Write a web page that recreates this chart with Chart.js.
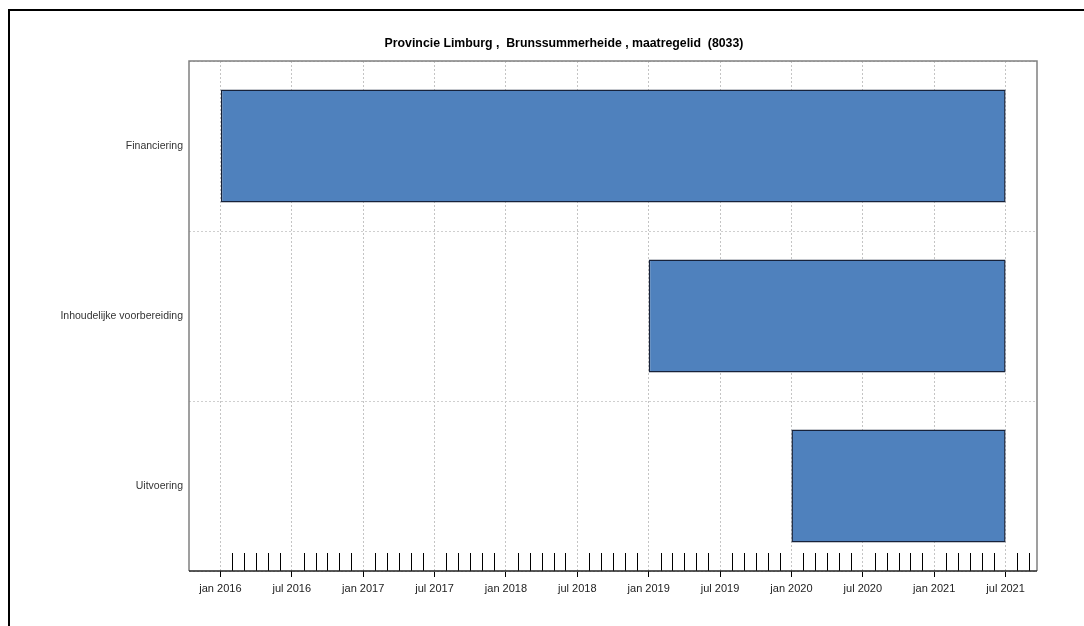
<!DOCTYPE html>
<html>
<head>
<meta charset="utf-8">
<script src="https://cdn.jsdelivr.net/npm/chart.js@4"></script>
<style>
  html, body { margin: 0; padding: 0; background: #fff; }
  #wrap { position: relative; width: 1084px; height: 626px; overflow: hidden; }
  #frame { position: absolute; left: 8px; top: 9px; right: -4px; bottom: -4px;
           border-top: 2px solid #000; border-left: 2px solid #000; }
  canvas { position: absolute; left: 0; top: 0; }
</style>
</head>
<body>
<div id="wrap">
  <canvas id="gantt" width="1084" height="626"></canvas>
  <div id="frame"></div>
</div>
<script>
// Chart data
const titleText = 'Provincie Limburg ,  Brunssummerheide , maatregelid  (8033)';
const categories = ['Financiering', 'Inhoudelijke voorbereiding', 'Uitvoering'];
const startDates = ['2016-01', '2019-01', '2020-01'];
const endDates = ['2021-07', '2021-07', '2021-07'];
const monthNames = ['jan', 'feb', 'mrt', 'apr', 'mei', 'jun', 'jul', 'aug', 'sep', 'okt', 'nov', 'dec'];
const firstTick = '2016-01';
const lastTick = '2021-09';

// months since jan 2016
function toMonth(s) {
    const [y, m] = s.split('-').map(Number);
    return (y - 2016) * 12 + (m - 1);
}
function monthLabel(v) {
    const y = 2016 + Math.floor(v / 12);
    return monthNames[((v % 12) + 12) % 12] + ' ' + y;
}

const bars = startDates.map((s, i) => [toMonth(s), toMonth(endDates[i])]);
const dataMin = Math.min(...bars.map(b => b[0]));
const dataMax = Math.max(...bars.map(b => b[1]));
const pad = (dataMax - dataMin) * 0.04; // R style axis padding

const isMajor = v => v % 6 === 0 && v <= dataMax;

// Frame around plot + minor month ticks inside
const boxPlugin = {
    id: 'box',
    afterDraw(chart) {
        const { ctx, chartArea: a } = chart;
        const xs = chart.scales.x;
        ctx.save();
        ctx.lineWidth = 1;
        ctx.strokeStyle = '#000';
        ctx.beginPath();
        xs.ticks.forEach(t => {
            if (isMajor(t.value)) return;
            const px = Math.round(xs.getPixelForValue(t.value)) + 0.5;
            ctx.moveTo(px, a.bottom);
            ctx.lineTo(px, a.bottom - 18);
        });
        ctx.stroke();
        ctx.strokeStyle = '#808080';
        ctx.lineWidth = 1.5;
        ctx.beginPath();
        ctx.moveTo(a.left, a.bottom);
        ctx.lineTo(a.left, a.top);
        ctx.lineTo(a.right, a.top);
        ctx.lineTo(a.right, a.bottom);
        ctx.stroke();
        ctx.strokeStyle = '#222';
        ctx.beginPath();
        ctx.moveTo(a.left, a.bottom);
        ctx.lineTo(a.right, a.bottom);
        ctx.stroke();
        // title
        ctx.fillStyle = '#000';
        ctx.font = 'bold 12.3px "Liberation Sans", Arial, sans-serif';
        ctx.textAlign = 'center';
        ctx.textBaseline = 'middle';
        ctx.fillText(titleText, 564, 44);
        ctx.restore();
    }
};

new Chart(document.getElementById('gantt'), {
    type: 'bar',
    data: {
        labels: categories,
        datasets: [{
            data: bars,
            backgroundColor: '#4f81bd',
            borderColor: '#17223a',
            borderWidth: 1.5,
            borderSkipped: false,
            barPercentage: 0.665,
            categoryPercentage: 1
        }]
    },
    options: {
        indexAxis: 'y',
        responsive: false,
        animation: false,
        layout: { padding: { top: 61, right: 47, left: 0, bottom: 0 } },
        plugins: { legend: { display: false }, tooltip: { enabled: false } },
        scales: {
            x: {
                type: 'linear',
                min: dataMin - pad,
                max: dataMax + pad,
                afterBuildTicks(scale) {
                    const ticks = [];
                    for (let v = toMonth(firstTick); v <= toMonth(lastTick); v++) ticks.push({ value: v });
                    scale.ticks = ticks;
                },
                afterFit(scale) { scale.height = 55; },
                border: { display: false, dash: [2, 2] },
                grid: {
                    drawOnChartArea: true,
                    color: c => (c.tick && isMajor(c.tick.value)) ? '#c4c4c4' : 'rgba(0,0,0,0)',
                    tickLength: 6,
                    tickColor: c => (c.tick && isMajor(c.tick.value)) ? '#000' : 'rgba(0,0,0,0)',
                    tickWidth: 1
                },
                ticks: {
                    autoSkip: false,
                    maxRotation: 0,
                    padding: 5,
                    color: '#222',
                    font: { family: '"Liberation Sans", Arial, sans-serif', size: 11 },
                    callback: v => isMajor(v) ? monthLabel(v) : ''
                }
            },
            y: {
                type: 'category',
                offset: true,
                afterFit(scale) { scale.width = 189; },
                border: { display: false, dash: [2, 2] },
                grid: {
                    offset: true,
                    color: '#cfcfcf',
                    drawTicks: false
                },
                ticks: {
                    padding: 6,
                    color: '#333',
                    font: { family: '"Liberation Sans", Arial, sans-serif', size: 10.5 }
                }
            }
        }
    },
    plugins: [boxPlugin]
});
</script>
</body>
</html>
